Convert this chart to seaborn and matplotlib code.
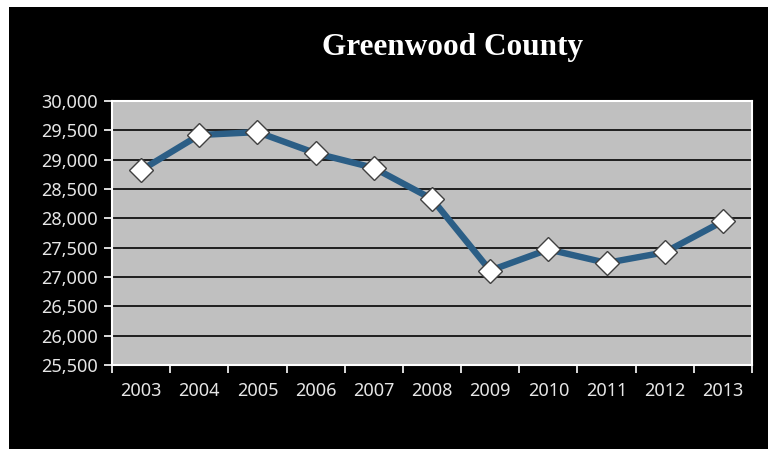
import matplotlib
matplotlib.use("Agg")
import matplotlib.pyplot as plt
import seaborn as sns
import pandas as pd
from matplotlib.patches import Rectangle

years = ["2003", "2004", "2005", "2006", "2007", "2008", "2009", "2010", "2011", "2012", "2013"]
population = [28820, 29420, 29470, 29110, 28860, 28330, 27110, 27470, 27240, 27420, 27950]
y_ticks = [25500, 26000, 26500, 27000, 27500, 28000, 28500, 29000, 29500, 30000]
title = "Greenwood County"

sns.set_theme(style="white")
plt.rcParams["font.family"] = ["Noto Sans", "DejaVu Sans"]

fig = plt.figure(figsize=(7.68, 4.49), dpi=100, facecolor="white")
fig.patches.append(Rectangle((9 / 768, 0), 1, (449 - 7) / 449, transform=fig.transFigure,
                             facecolor="black", edgecolor="none", zorder=-10))
ax = fig.add_axes([112 / 768, (449 - 365) / 449, (752 - 112) / 768, (365 - 101) / 449])
ax.set_zorder(1)
ax.set_facecolor("#C0C0C0")

df = pd.DataFrame({"idx": range(len(years)), "pop": population})
sns.lineplot(data=df, x="idx", y="pop", ax=ax, color="#2B5E86", linewidth=4.6,
             marker="D", markersize=12, markerfacecolor="white",
             markeredgecolor="#404040", markeredgewidth=1.0, zorder=3)

ax.set_xlim(-0.5, len(years) - 0.5)
ax.set_ylim(25500, 30000)
ax.set_yticks(y_ticks)
ax.set_yticklabels([f"{v:,}" for v in y_ticks])
ax.set_xticks([i - 0.5 for i in range(len(years) + 1)])
ax.set_xticklabels([])
ax.set_xticks(range(len(years)), minor=True)
ax.set_xticklabels(years, minor=True)
ax.tick_params(axis="x", which="major", length=6, width=1.2, color="white", direction="out", bottom=True)
ax.tick_params(axis="x", which="minor", length=0, pad=12, labelsize=13, labelcolor="#E6E6E6")
ax.tick_params(axis="y", length=6, width=1.2, color="white", direction="out", left=True,
               labelsize=13, labelcolor="#E6E6E6", pad=4)
ax.yaxis.grid(True, color="#1E1E1E", linewidth=1.4)
ax.xaxis.grid(False)
ax.set_axisbelow(True)
for s in ax.spines.values():
    s.set_color("white")
    s.set_linewidth(1.5)
ax.set_xlabel("")
ax.set_ylabel("")

fig.text(453 / 768, (449 - 47) / 449, title, ha="center", va="center", color="white",
         fontsize=22.5, fontweight="bold", family=["Liberation Serif", "DejaVu Serif"])

fig.savefig("out.png", dpi=100, facecolor=fig.get_facecolor())
